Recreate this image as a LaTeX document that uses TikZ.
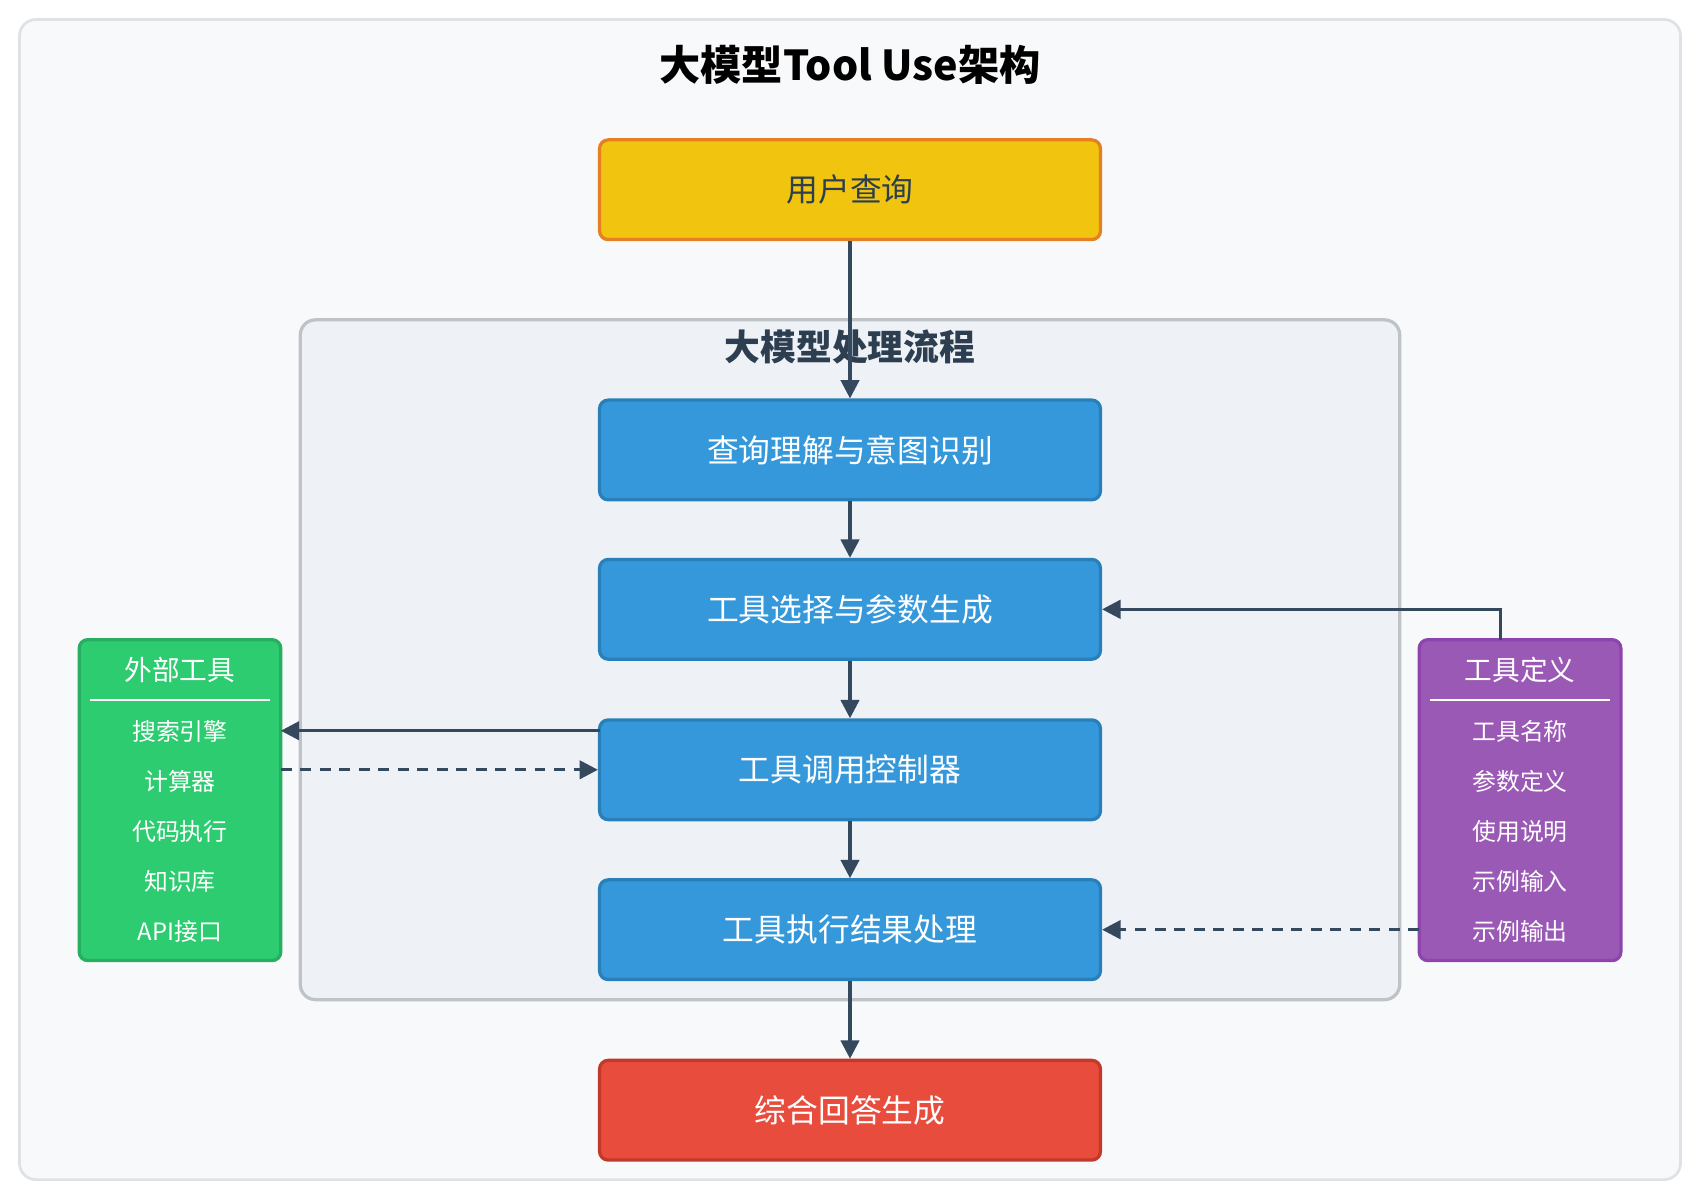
\documentclass[tikz,border=0pt]{standalone}
\usepackage{fontspec}
\setmainfont{Noto Sans CJK SC}
\usetikzlibrary{arrows.meta,calc}
\definecolor{bgfill}{HTML}{F8F9FA}
\definecolor{bgline}{HTML}{DEE2E6}
\definecolor{contfill}{HTML}{EEF2F7}
\definecolor{contline}{HTML}{BDC3C7}
\definecolor{dark}{HTML}{2C3E50}
\definecolor{arrcol}{HTML}{34495E}
\definecolor{yel}{HTML}{F1C40F}
\definecolor{orn}{HTML}{E67E22}
\definecolor{blu}{HTML}{3498DB}
\definecolor{bluline}{HTML}{2980B9}
\definecolor{redf}{HTML}{E74C3C}
\definecolor{redline}{HTML}{C0392B}
\definecolor{grn}{HTML}{2ECC71}
\definecolor{grnline}{HTML}{27AE60}
\definecolor{pur}{HTML}{9B59B6}
\definecolor{purline}{HTML}{8E44AD}
\tikzset{
  mainbox/.style={draw, line width=3pt, rounded corners=8pt, minimum width=462pt, minimum height=92pt, inner sep=0pt, font=\fontsize{29.3}{32}\selectfont},
  bluebox/.style={mainbox, fill=blu, draw=bluline, text=white},
  sidebox/.style={draw, line width=3pt, rounded corners=8pt, minimum width=186pt, minimum height=296pt, inner sep=0pt},
  sidetitle/.style={text=white, font=\fontsize{25.5}{28}\selectfont, inner sep=0pt},
  sideitem/.style={text=white, font=\fontsize{22}{24}\selectfont, inner sep=0pt},
  arr/.style={draw=arrcol, line width=3pt, -{Triangle[length=17pt,width=17pt]}},
  darr/.style={arr, dash pattern=on 10pt off 8pt},
}
\begin{document}
\begin{tikzpicture}[x=1pt,y=-1pt]
\useasboundingbox (0,0) rectangle (1568,1106.8);
\draw[fill=bgfill, draw=bgline, line width=2.5pt, rounded corners=15pt] (18,18) rectangle (1550,1088);
\node[font=\fontsize{38}{42}\selectfont\bfseries, text=black, inner sep=0pt] (title) at (784,60) {大模型Tool Use架构};
\draw[fill=contfill, draw=contline, line width=3pt, rounded corners=14pt] (277,295) rectangle (1291,922);
\node[font=\fontsize{33}{36}\selectfont\bfseries, text=dark, inner sep=0pt] (ctitle) at (784,320) {大模型处理流程};

\node[mainbox, fill=yel, draw=orn, text=dark] (user) at (784,175) {用户查询};
\node[bluebox] (q1) at (784,415) {查询理解与意图识别};
\node[bluebox] (q2) at (784,562) {工具选择与参数生成};
\node[bluebox] (q3) at (784,710) {工具调用控制器};
\node[bluebox] (q4) at (784,857.5) {工具执行结果处理};
\node[mainbox, fill=redf, draw=redline, text=white] (ans) at (784,1024) {综合回答生成};

\node[sidebox, fill=grn, draw=grnline] (ext) at (166,738) {};
\node[sidetitle] (extt) at (166,618) {外部工具};
\draw[white, line width=2pt] (83,646) -- (249,646);
\node[sideitem] (e1) at (166,675) {搜索引擎};
\node[sideitem] (e2) at (166,721) {计算器};
\node[sideitem] (e3) at (166,767) {代码执行};
\node[sideitem] (e4) at (166,813) {知识库};
\node[sideitem] (e5) at (166,859) {API接口};

\node[sidebox, fill=pur, draw=purline] (def) at (1402,738) {};
\node[sidetitle] (deft) at (1402,618) {工具定义};
\draw[white, line width=2pt] (1319,646) -- (1485,646);
\node[sideitem] (d1) at (1402,675) {工具名称};
\node[sideitem] (d2) at (1402,721) {参数定义};
\node[sideitem] (d3) at (1402,767) {使用说明};
\node[sideitem] (d4) at (1402,813) {示例输入};
\node[sideitem] (d5) at (1402,859) {示例输出};

\coordinate (defTop) at (1384,590);
\coordinate (q3a) at (553,674);
\coordinate (exta) at (259,674);
\coordinate (extb) at (259,710);
\coordinate (defb) at (1309,857.5);

\draw[arr] (user.south) -- (q1.north);
\draw[arr] (q1.south) -- (q2.north);
\draw[arr] (q2.south) -- (q3.north);
\draw[arr] (q3.south) -- (q4.north);
\draw[arr] (q4.south) -- (ans.north);
\draw[arr] (defTop) |- (q2.east);
\draw[arr] (q3a) -- (exta);
\draw[darr] (extb) -- (q3.west);
\draw[darr] (defb) -- (q4.east);
\end{tikzpicture}
\end{document}
